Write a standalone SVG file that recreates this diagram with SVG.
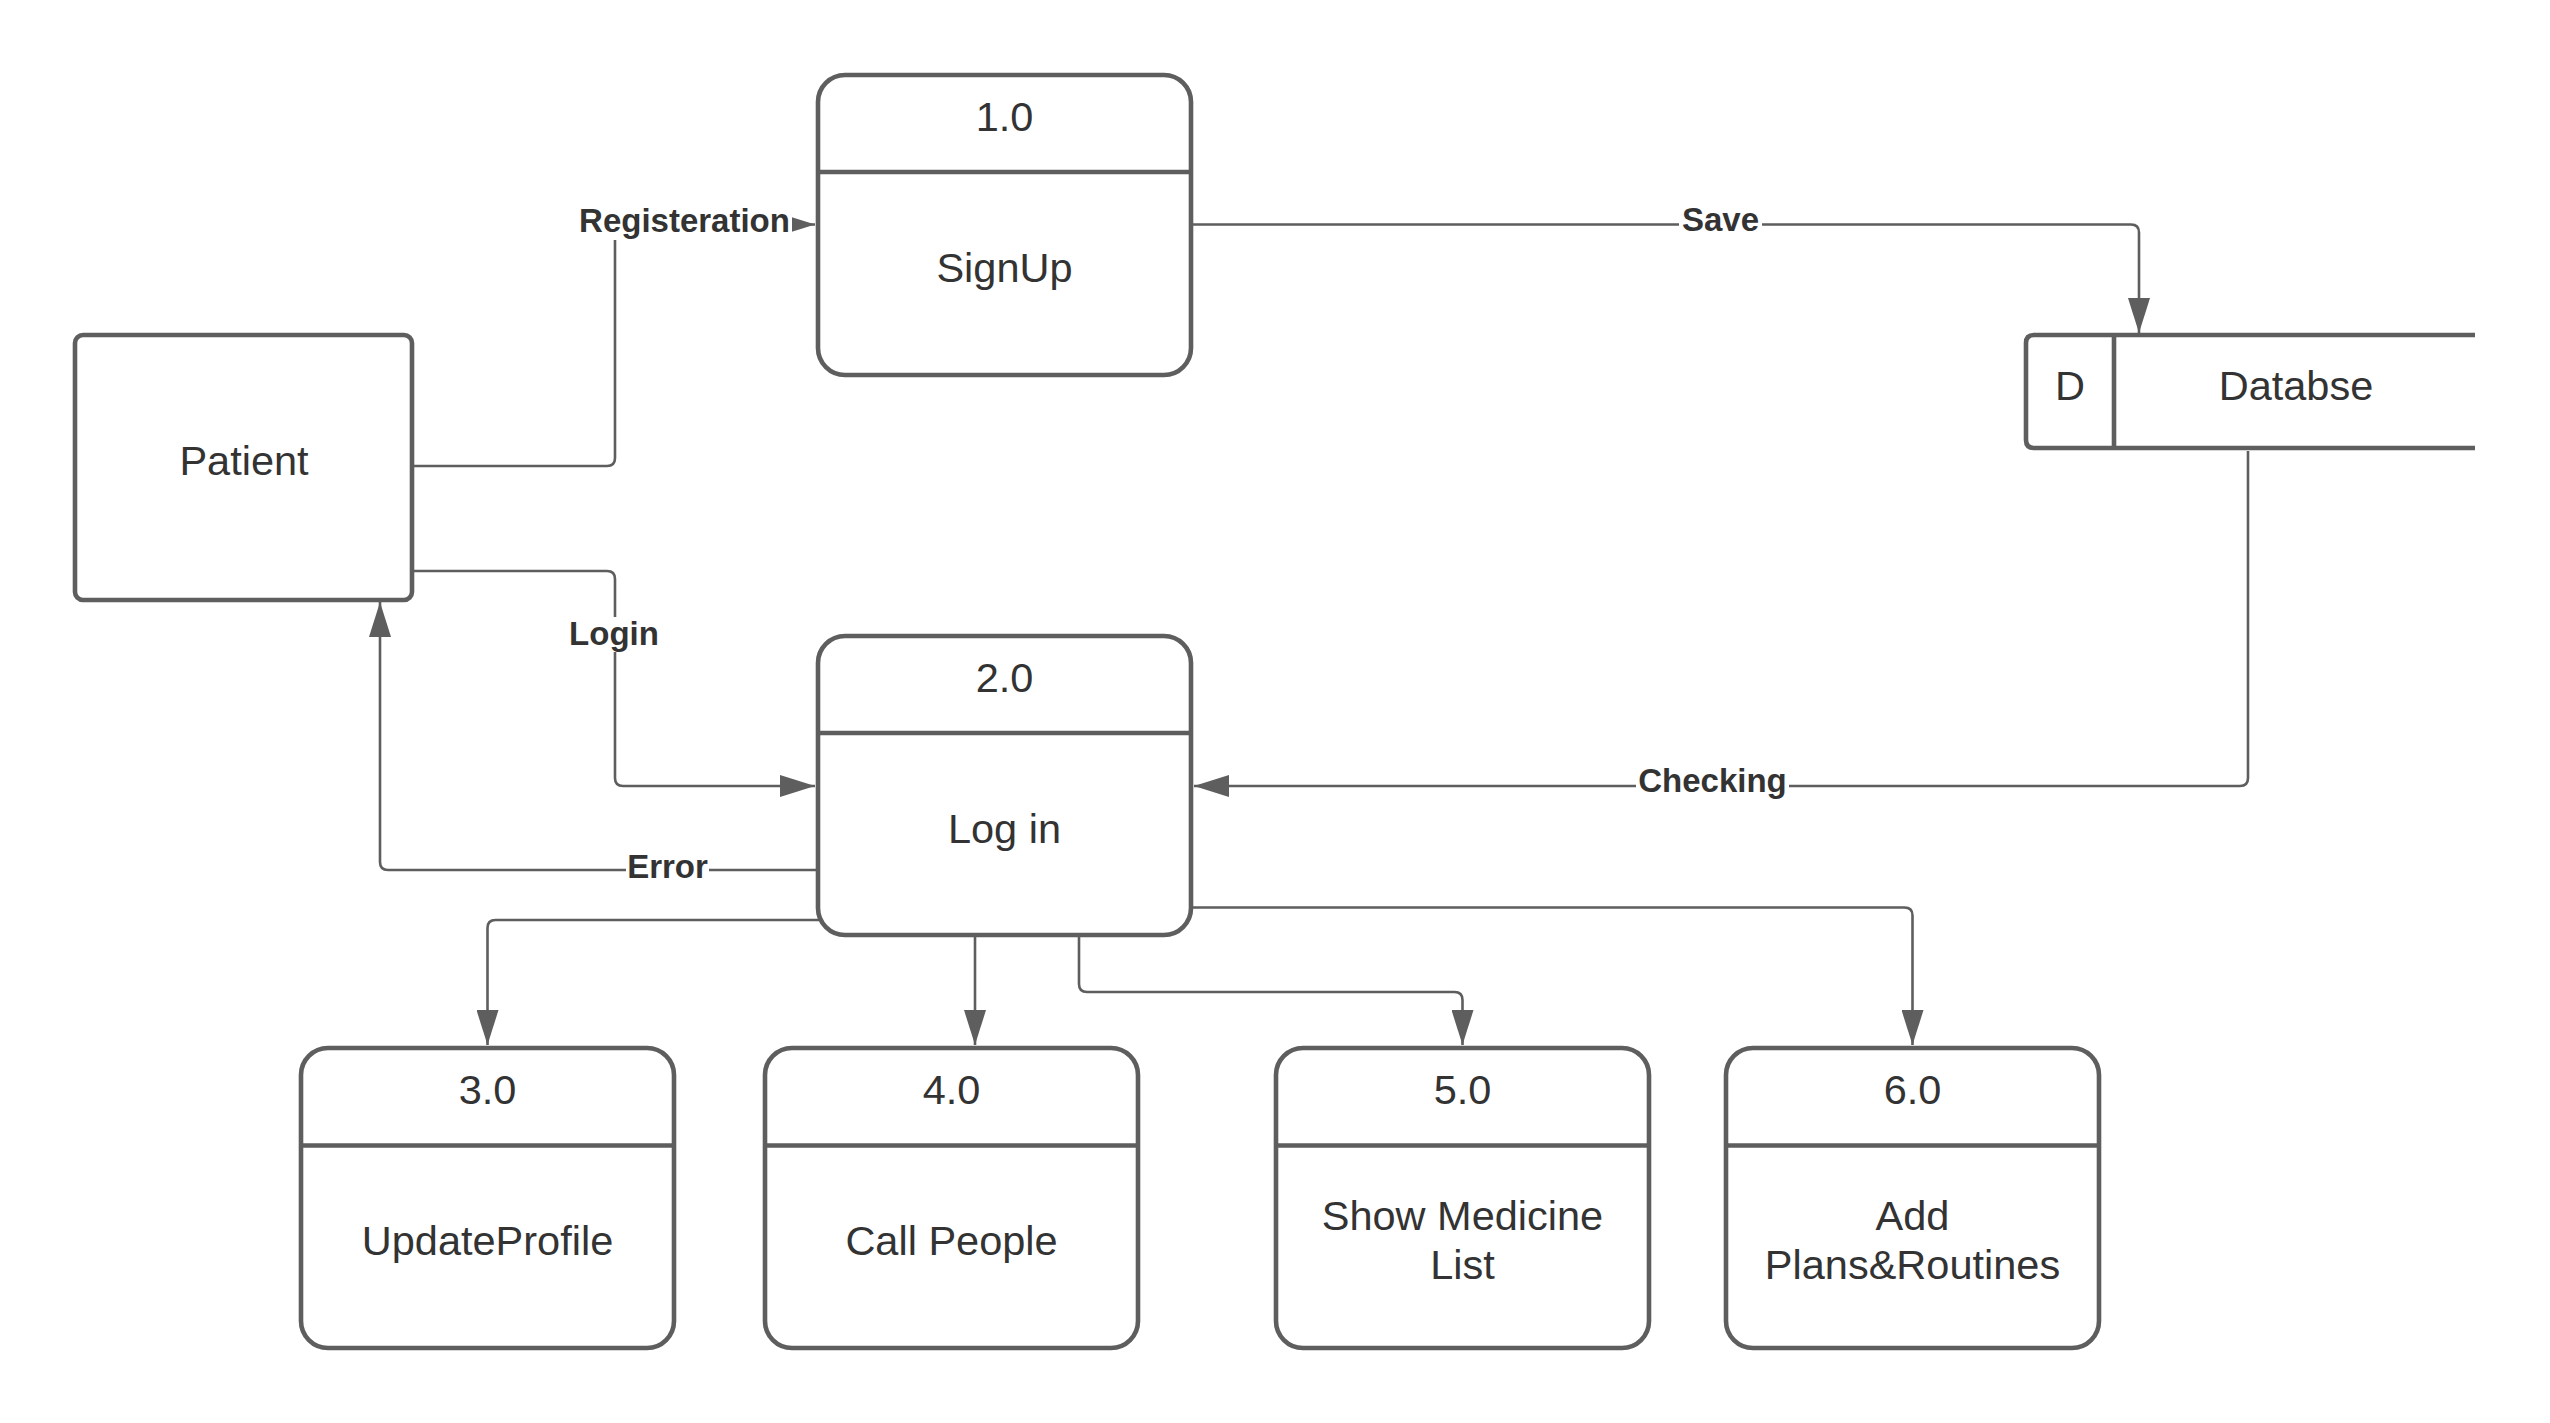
<svg xmlns="http://www.w3.org/2000/svg" width="2550" height="1423" viewBox="0 0 2550 1423">
<defs>
<style>
.shape{fill:#ffffff;stroke:#5e5e5e;stroke-width:4.6}
.div{fill:none;stroke:#5e5e5e;stroke-width:4.6}
.conn{fill:none;stroke:#5e5e5e;stroke-width:2.6;marker-end:url(#arrow)}
.t{font-family:"Liberation Sans",Arial,sans-serif;font-size:41.5px;fill:#333333;text-anchor:middle}
.lbl{font-family:"Liberation Sans",Arial,sans-serif;font-size:33px;font-weight:bold;fill:#333333;text-anchor:middle}
.bg{fill:#ffffff}
</style>
<marker id="arrow" markerUnits="userSpaceOnUse" viewBox="0 0 35 22" refX="35" refY="11" markerWidth="35" markerHeight="22" orient="auto">
<path d="M0,0 L35,11 L0,22 z" fill="#5e5e5e"/>
</marker>
</defs>
<rect width="2550" height="1423" fill="#ffffff"/>

<g id="connectors">
<path class="conn" d="M414,466 H607 Q615,466 615,458 V232.5 Q615,224.5 623,224.5 H815"/>
<path class="conn" d="M1193,224.5 H2131 Q2139,224.5 2139,232.5 V333"/>
<path class="conn" d="M414,571 H607 Q615,571 615,579 V778 Q615,786 623,786 H815"/>
<path class="conn" d="M816,870 H388 Q380,870 380,862 V602"/>
<path class="conn" d="M2248,451 V778 Q2248,786 2240,786 H1194"/>
<path class="conn" d="M822,920 H495.5 Q487.5,920 487.5,928 V1045"/>
<path class="conn" d="M975,937 V1045"/>
<path class="conn" d="M1079,937 V984 Q1079,992 1087,992 H1454.5 Q1462.5,992 1462.5,1000 V1045"/>
<path class="conn" d="M1193,907.5 H1904.5 Q1912.5,907.5 1912.5,915.5 V1045"/>
<g id="labels">
<rect class="bg" x="578" y="205" width="214" height="35"/>
<text class="lbl" x="684.5" y="232">Registeration</text>
<rect class="bg" x="1679" y="205" width="83" height="35"/>
<text class="lbl" x="1720.5" y="231">Save</text>
<rect class="bg" x="568" y="617" width="92" height="35"/>
<text class="lbl" x="614" y="645">Login</text>
<rect class="bg" x="626" y="850" width="83" height="35"/>
<text class="lbl" x="667.5" y="878">Error</text>
<rect class="bg" x="1636" y="765" width="153" height="35"/>
<text class="lbl" x="1712.5" y="792">Checking</text>
</g>
</g>

<g id="patient">
<rect class="shape" x="75" y="335" width="337" height="265" rx="8" ry="8"/>
<text class="t" x="244" y="475">Patient</text>
</g>

<g id="p1">
<rect class="shape" x="818" y="75" width="373" height="300" rx="27" ry="27"/>
<line class="div" x1="818" y1="172" x2="1191" y2="172"/>
<text class="t" x="1004.5" y="131">1.0</text>
<text class="t" x="1004.5" y="282">SignUp</text>
</g>

<g id="p2">
<rect class="shape" x="818" y="636" width="373" height="299" rx="27" ry="27"/>
<line class="div" x1="818" y1="733" x2="1191" y2="733"/>
<text class="t" x="1004.5" y="692">2.0</text>
<text class="t" x="1004.5" y="843">Log in</text>
</g>

<g id="datastore">
<path class="shape" d="M2475,335 H2034 Q2026,335 2026,343 V440 Q2026,448 2034,448 H2475"/>
<line class="div" x1="2114" y1="335" x2="2114" y2="448"/>
<text class="t" x="2070" y="400">D</text>
<text class="t" x="2296" y="400">Databse</text>
</g>

<g id="p3">
<rect class="shape" x="301" y="1048" width="373" height="300" rx="27" ry="27"/>
<line class="div" x1="301" y1="1145.5" x2="674" y2="1145.5"/>
<text class="t" x="487.5" y="1104">3.0</text>
<text class="t" x="487.5" y="1255">UpdateProfile</text>
</g>

<g id="p4">
<rect class="shape" x="765" y="1048" width="373" height="300" rx="27" ry="27"/>
<line class="div" x1="765" y1="1145.5" x2="1138" y2="1145.5"/>
<text class="t" x="951.5" y="1104">4.0</text>
<text class="t" x="951.5" y="1255">Call People</text>
</g>

<g id="p5">
<rect class="shape" x="1276" y="1048" width="373" height="300" rx="27" ry="27"/>
<line class="div" x1="1276" y1="1145.5" x2="1649" y2="1145.5"/>
<text class="t" x="1462.5" y="1104">5.0</text>
<text class="t" x="1462.5" y="1230">Show Medicine</text>
<text class="t" x="1462.5" y="1279">List</text>
</g>

<g id="p6">
<rect class="shape" x="1726" y="1048" width="373" height="300" rx="27" ry="27"/>
<line class="div" x1="1726" y1="1145.5" x2="2099" y2="1145.5"/>
<text class="t" x="1912.5" y="1104">6.0</text>
<text class="t" x="1912.5" y="1230">Add</text>
<text class="t" x="1912.5" y="1279">Plans&amp;Routines</text>
</g>
</svg>
